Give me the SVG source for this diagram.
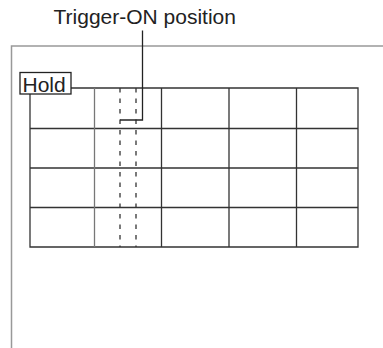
<svg xmlns="http://www.w3.org/2000/svg" width="383" height="348" viewBox="0 0 383 348">
<style>
.t{font-family:"Liberation Sans",Arial,sans-serif;font-size:21px;fill:#222}
.frame{fill:none;stroke:#999;stroke-width:1.5}
.g{fill:none;stroke:#333;stroke-width:1.3}
.gg{fill:none;stroke:#777;stroke-width:1.3}
.d{fill:none;stroke:#333;stroke-width:1.3;stroke-dasharray:4.5 6}
.ln{fill:none;stroke:#222;stroke-width:1.3}
</style>
<rect width="383" height="348" fill="#fff"/>
<g id="frame">
<path class="frame" d="M11.5,348 V46 H383"/>
</g>
<g id="grid">
<path class="g" d="M71,88 H358 V247 H30 V94"/>
<path class="g" d="M30,128.5 H358 M30,168 H358 M30,207.5 H358"/>
<path class="gg" d="M94.5,88 V247"/>
<path class="g" d="M161.5,88 V247 M229,88 V247 M296.5,88 V247"/>
<path class="d" d="M120,88 V247 M136,88 V247"/>
</g>
<g id="hold">
<rect x="20" y="72.5" width="51" height="21.5" fill="#fff" stroke="#222" stroke-width="1.3"/>
<text class="t" x="22.5" y="91.5">Hold</text>
</g>
<g id="trigger">
<text class="t" x="53.5" y="24">Trigger-ON position</text>
</g>
<g id="connectors">
<path class="ln" d="M142.5,30.5 V120 H120"/>
</g>
</svg>
